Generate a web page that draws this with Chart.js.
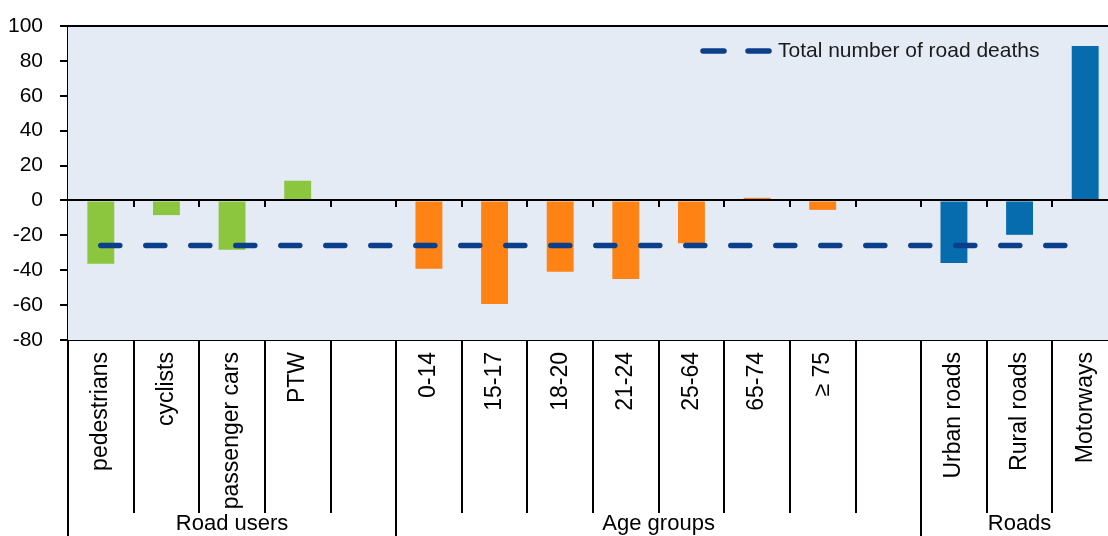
<!DOCTYPE html>
<html>
<head>
<meta charset="utf-8">
<script src="https://cdn.jsdelivr.net/npm/chart.js@4"></script>
<style>
  html, body { margin: 0; padding: 0; background: #fff; overflow: hidden; }
  #wrap { width: 1120px; height: 536px; position: relative; }
</style>
</head>
<body>
<div id="wrap"><canvas id="chart"></canvas></div>
<script>
// Categories (blank entries are the spacer columns between groups)
const categories = ['pedestrians', 'cyclists', 'passenger cars', 'PTW', '',
    '0-14', '15-17', '18-20', '21-24', '25-64', '65-74', '\u2265 75', '',
    'Urban roads', 'Rural roads', 'Motorways'];

// Change in road deaths (%)
const changeValues = [-36.3, -8.4, -28.3, 11.3, null,
    -39.2, -59.3, -40.9, -45.1, -24.5, 1.5, -5.4, null,
    -35.9, -19.7, 88.5];

// Total number of road deaths (reference line)
const totalValues = [-25.8, -25.8, -25.8, -25.8, -25.8, -25.8, -25.8, -25.8,
    -25.8, -25.8, -25.8, -25.8, -25.8, -25.8, -25.8, -25.8];

const groupNames = ['Road users', 'Age groups', 'Roads'];
const groupStarts = [0, 5, 13];   // first category index of each group

const yTicks = [-80, -60, -40, -20, 0, 20, 40, 60, 80, 100];

const GREEN = '#8cc63f';
const ORANGE = '#ff8215';
const BLUE = '#066cad';
const DASH = '#0b3f8a';
const FONT = "'Liberation Sans', Arial, sans-serif";

function barColor(i) {
    if (i < groupStarts[1]) return GREEN;
    if (i < groupStarts[2]) return ORANGE;
    return BLUE;
}

// Background, axis lines, category separators, group labels, legend
const decorations = {
    id: 'decorations',
    beforeDatasetsDraw(chart) {
        const { ctx, chartArea } = chart;
        ctx.save();
        ctx.fillStyle = '#e4ebf4';
        ctx.fillRect(chartArea.left, chartArea.top, chartArea.right - chartArea.left, chartArea.bottom - chartArea.top);
        ctx.restore();
    },
    afterDraw(chart) {
        const { ctx, chartArea, scales } = chart;
        const x = scales.x, y = scales.y;
        const H = chart.height;
        ctx.save();
        ctx.strokeStyle = '#000';
        ctx.lineWidth = 2;

        // top border
        ctx.beginPath();
        ctx.moveTo(chartArea.left, chartArea.top);
        ctx.lineTo(chartArea.right, chartArea.top);
        ctx.stroke();

        // zero line
        const y0 = Math.round(y.getPixelForValue(0));
        ctx.beginPath();
        ctx.moveTo(chartArea.left, y0);
        ctx.lineTo(chartArea.right, y0);
        ctx.stroke();

        // category boundaries
        const half = (x.getPixelForValue(1) - x.getPixelForValue(0)) / 2;
        for (let i = 0; i < categories.length; i++) {
            const bx = Math.round(x.getPixelForValue(i) - half);
            const isGroup = groupStarts.includes(i);
            // ticks below the zero line
            if (i > 0) {
                ctx.beginPath();
                ctx.moveTo(bx, y0);
                ctx.lineTo(bx, y0 + 7);
                ctx.stroke();
            }
            ctx.beginPath();
            ctx.moveTo(bx, chartArea.bottom);
            ctx.lineTo(bx, isGroup ? H : chartArea.bottom + 173);
            ctx.stroke();
        }

        // group labels
        ctx.fillStyle = '#000';
        ctx.font = '22px ' + FONT;
        ctx.textAlign = 'center';
        ctx.textBaseline = 'middle';
        groupNames.forEach((name, g) => {
            const first = groupStarts[g];
            const last = g + 1 < groupStarts.length ? groupStarts[g + 1] - 1 : categories.length - 1;
            const cx = (x.getPixelForValue(first) + x.getPixelForValue(last)) / 2;
            ctx.fillText(name, cx, 524);
        });

        // legend
        const ds = chart.data.datasets[1];
        const lx = 701, ly = 51;
        ctx.strokeStyle = ds.borderColor;
        ctx.lineWidth = ds.borderWidth;
        ctx.lineCap = 'round';
        [[703, 724], [748, 769]].forEach(([a, b]) => {
            ctx.beginPath();
            ctx.moveTo(a, ly);
            ctx.lineTo(b, ly);
            ctx.stroke();
        });
        ctx.fillStyle = '#1a1a1a';
        ctx.font = '21px ' + FONT;
        ctx.textAlign = 'left';
        ctx.fillText(ds.label, lx + 77, ly);
        ctx.restore();
    }
};

const ctx = document.getElementById('chart').getContext('2d');
const chart = new Chart(ctx, {
    data: {
        labels: categories,
        datasets: [{
            type: 'bar',
            label: 'Change',
            data: changeValues,
            backgroundColor: changeValues.map((v, i) => barColor(i)),
            barPercentage: 0.41,
            categoryPercentage: 1,
            order: 2
        }, {
            type: 'line',
            label: 'Total number of road deaths',
            data: totalValues,
            borderColor: DASH,
            borderWidth: 5.5,
            borderDash: [19, 26],
            borderCapStyle: 'round',
            pointRadius: 0,
            fill: false,
            order: 1
        }]
    },
    options: {
        responsive: true,
        maintainAspectRatio: false,
        animation: false,
        layout: { padding: { top: 26, right: 2, left: 0, bottom: 0 } },
        plugins: {
            legend: { display: false },
            tooltip: { enabled: false }
        },
        scales: {
            x: {
                afterFit(scale) {
                    scale.height = 196;
                    scale.paddingLeft = 0;
                    scale.paddingRight = 0;
                },
                grid: { display: false },
                border: { display: true, color: '#000', width: 2 },
                ticks: {
                    autoSkip: false,
                    maxRotation: 90,
                    minRotation: 90,
                    padding: 4,
                    color: '#000',
                    font: { family: FONT, size: 23 }
                }
            },
            y: {
                min: -80,
                max: 100,
                afterFit(scale) {
                    scale.width = 68;
                    scale.paddingTop = 0;
                    scale.paddingBottom = 0;
                },
                afterBuildTicks(scale) { scale.ticks = yTicks.map(v => ({ value: v })); },
                grid: { display: true, drawOnChartArea: false, drawTicks: true, tickLength: 8, color: '#000', lineWidth: 2 },
                border: { display: true, color: '#000', width: 2 },
                ticks: {
                    padding: 17,
                    color: '#000',
                    font: { family: FONT, size: 21 }
                }
            }
        }
    },
    plugins: [decorations]
});
</script>
</body>
</html>
